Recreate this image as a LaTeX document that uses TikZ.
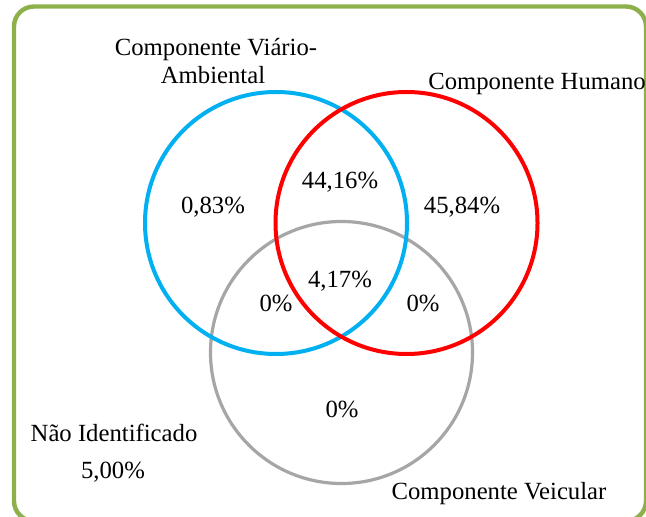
\documentclass[tikz,border=0pt]{standalone}
\usepackage{fontspec}
\setmainfont{Liberation Serif}
\definecolor{frameg}{RGB}{141,176,74}
\definecolor{cblue}{RGB}{0,176,240}
\definecolor{cred}{RGB}{255,0,0}
\definecolor{cgray}{RGB}{166,166,166}
\begin{document}
\begin{tikzpicture}[x=0.5pt,y=-0.5pt,
  lbl/.style={font=\fontsize{12.35pt}{14pt}\selectfont, inner sep=0pt, anchor=base},
  venn/.style={circle, minimum size=131pt, inner sep=0pt, outer sep=0pt}]
\useasboundingbox (0,0) rectangle (646,517);
\fill[white] (0,0) rectangle (646,517);
\begin{scope}
\clip (0,0) rectangle (646,517);
\draw[frameg, line width=2.2pt, rounded corners=10pt] (14,6.5) rectangle (646,521);
\end{scope}
\node[venn, draw=cgray, line width=1.6pt] (V) at (341.5,352.5) {};
\node[venn, draw=cblue, line width=2pt] (A) at (276,223) {};
\node[venn, draw=cred, line width=2pt] (H) at (406.5,223) {};
\node[lbl] (tA1) at (216,56) {Componente Viário-};
\node[lbl] (tA2) at (213,84) {Ambiental};
\node[lbl] (tH) at (537,90) {Componente Humano};
\node[lbl] (tV) at (499,499) {Componente Veicular};
\node[lbl] (tN1) at (114,441) {Não Identificado};
\node[lbl] (tN2) at (113,478) {5,00\%};
\node[lbl] (pA) at (213,214) {0,83\%};
\node[lbl] (pAH) at (340,189) {44,16\%};
\node[lbl] (pH) at (462,214) {45,84\%};
\node[lbl] (pAHV) at (340,288) {4,17\%};
\node[lbl] (pAV) at (276,312) {0\%};
\node[lbl] (pHV) at (423,312) {0\%};
\node[lbl] (pV) at (342,417) {0\%};
\end{tikzpicture}
\end{document}
